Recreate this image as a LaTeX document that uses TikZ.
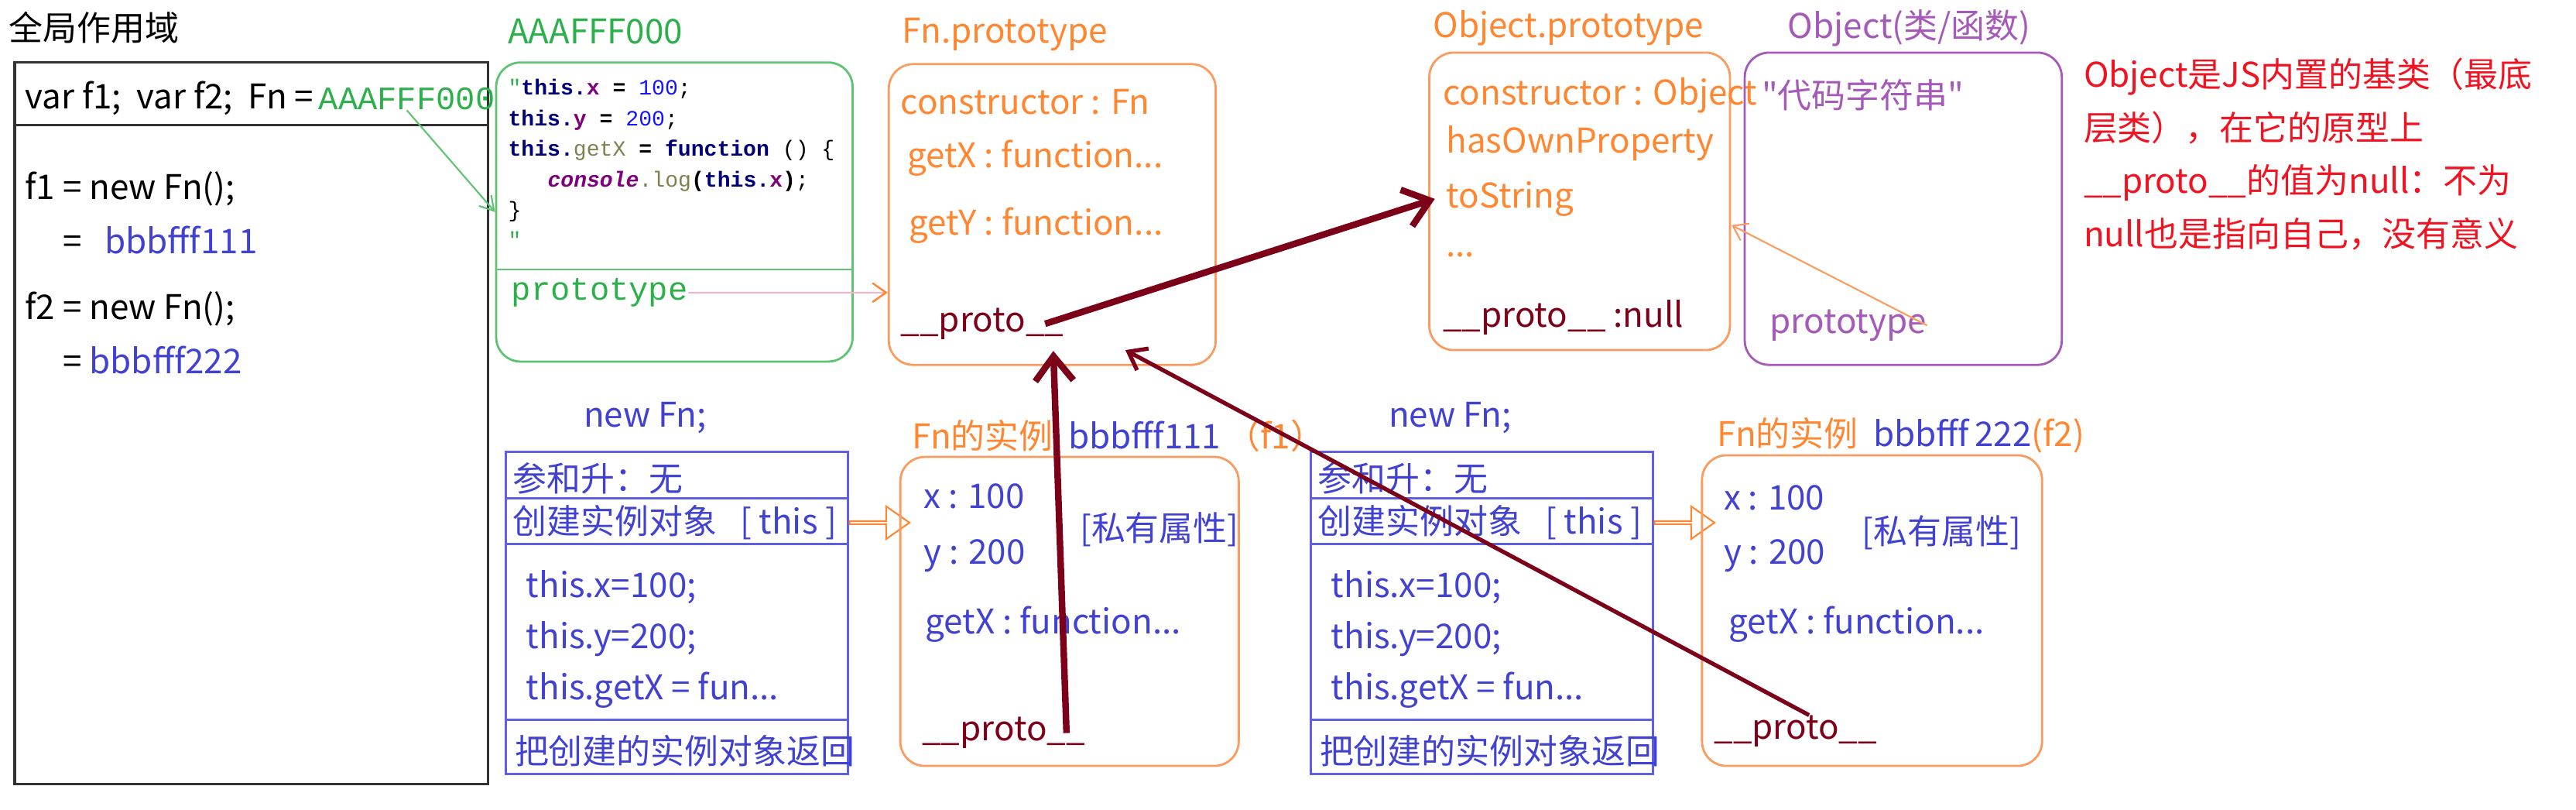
\documentclass[tikz,border=0pt]{standalone}
\usepackage{fontspec}
\setmainfont{Noto Sans CJK SC}
\newfontfamily\codefont{Liberation Mono}
\usepackage{tikz}
\usetikzlibrary{arrows.meta,fit,shapes.arrows}
\definecolor{gline}{RGB}{95,195,115}
\definecolor{gtext}{RGB}{45,175,75}
\definecolor{otext}{RGB}{255,135,50}
\definecolor{oline}{RGB}{250,155,95}
\definecolor{ptext}{RGB}{165,90,185}
\definecolor{rtext}{RGB}{240,20,35}
\definecolor{btext}{RGB}{65,65,210}
\definecolor{bline}{RGB}{95,95,225}
\definecolor{dred}{RGB}{125,0,25}
\definecolor{pinkl}{RGB}{255,175,200}
\definecolor{cnavy}{RGB}{0,0,120}
\definecolor{cpurp}{RGB}{125,0,125}
\definecolor{cblue}{RGB}{20,20,255}
\definecolor{colive}{RGB}{128,128,80}
\newcommand{\sq}{\XeTeXglyph\XeTeXcharglyph"22\relax}

\begin{document}
\begin{tikzpicture}[x=0.021224cm,y=-0.021224cm]
\useasboundingbox (0,0) rectangle (1568,492.8);

\tikzstyle{every node}=[font=\fontsize{12.5}{15}\selectfont, inner sep=0pt]
\tikzstyle{lbl}=[anchor=west]
\tikzstyle{mono}=[anchor=west, font=\codefont\fontsize{12}{14}\selectfont]
\tikzstyle{rbox}=[draw, rounded corners=9pt, line width=0.8pt]
\tikzstyle{sbox}=[draw=bline, line width=0.8pt]
\tikzstyle{bigarrow}=[dred, line width=2.4pt, -{Straight Barb[length=9pt,width=14pt]}]
\tikzstyle{hollow}=[single arrow, draw=otext, line width=0.6pt, minimum height=22pt, minimum width=12pt, single arrow head extend=3pt, single arrow tip angle=70, anchor=tail]

\node (gtitle) [lbl] at (5,17) {全局作用域};
\node (gscope) [draw, black!80, line width=1pt, fit={(9,38) (297,477)}] {};
\draw [black!80, line width=1pt] (9,76) -- (297,76);
\node (vars) [lbl] at (15,60) {var f1;\ \ var f2;\ \ Fn =};
\node (addr) [mono, gtext] at ([xshift=1.5pt]vars.east) {AAAFFF000};
\node (f1new) [lbl] at (15,115) {f1 = new Fn();};
\node (f1val) [lbl] at (38,146) {=\ \ \ {\color{btext}bbbfff111}};
\node (f2new) [lbl] at (15,188) {f2 = new Fn();};
\node (f2val) [lbl] at (38,219) {= {\color{btext}bbbfff222}};

\node (atitle) [lbl, gtext] at (309,19) {AAAFFF000};
\node (abox) [rbox, gline, fit={(302,38) (519,220)}] {};
\draw [gline, line width=0.8pt] (302,164) -- (519,164);
\node (acode) [anchor=north west, align=left, font=\codefont\bfseries\fontsize{8}{11.2}\selectfont] at (309,48) {%
{\color{gtext}\mdseries"}{\color{cnavy}this.}{\color{cpurp}x} = {\color{cblue}\mdseries 100}\mdseries;\\
{\color{cnavy}this.}{\color{cpurp}y} = {\color{cblue}\mdseries 200}\mdseries;\\
{\color{cnavy}this.}{\color{colive}\mdseries getX} = {\color{cnavy}function} \mdseries() \{\\
\hspace*{14.5pt}{\color{cpurp}\itshape console}{\color{colive}\mdseries.log}(\textcolor{cnavy}{this.}{\color{cpurp}x})\mdseries;\\
\mdseries\}\\
{\color{gtext}\mdseries"}};
\node (aproto) [mono, gtext] at (311,178) {prototype};

\node (fptitle) [lbl, otext] at (549,21) {Fn.prototype};
\node (fnproto) [rbox, oline, fit={(541,39) (740,222)}] {};
\node (fpcons) [lbl, otext] at (548,62) {constructor : Fn};
\node (fpgetx) [lbl, otext] at (552,96) {getX : function...};
\node (fpgety) [lbl, otext] at (553,137) {getY : function...};
\node (fpproto) [lbl, dred] at (548,197) {\_\_proto\_\_};

\node (optitle) [lbl, otext] at (872,17) {Object.prototype};
\node (objproto) [rbox, oline, fit={(870,32) (1053,213)}] {};
\node (opcons) [lbl, otext] at (878,58) {constructor : Object};
\node (ophas) [lbl, otext] at (880,87) {hasOwnProperty};
\node (tostr) [lbl, otext] at (880,121) {toString};
\node (opdots) [lbl, otext] at (880,155) {...};
\node (opproto) [lbl, dred] at (878,193) {\_\_proto\_\_ :null};

\node (oftitle) [lbl, ptext] at (1088,17) {Object(类/函数)};
\node (objfn) [rbox, ptext, fit={(1062,32) (1255,222)}] {};
\node (ofcode) [lbl, ptext] at (1072,58) {\sq 代码字符串\sq};
\node (ofproto) [lbl, ptext] at (1077,198) {prototype};

\node (note) [anchor=north west, align=left, rtext, font=\fontsize{12.5}{19.5}\selectfont] at (1268,35) {%
Object是JS内置的基类（最底\\
层类），在它的原型上\\
\_\_proto\_\_的值为null：不为\\
null也是指向自己，没有意义};

\node (new1) [lbl, btext] at (355,254) {new Fn;};
\node (ctor1) [sbox, fit={(308,275) (516,471)}] {};
\draw [bline, line width=0.8pt] (308,303) -- (516,303) (308,331) -- (516,331) (308,438) -- (516,438);
\node (c1arg) [lbl, btext] at (312,291) {参和升：无};
\node (c1this) [lbl, btext] at (312,318) {创建实例对象\ \ \ [ this ]};
\node (c1x) [lbl, btext] at (320,357) {this.x=100;};
\node (c1y) [lbl, btext] at (320,389) {this.y=200;};
\node (c1get) [lbl, btext] at (320,420) {this.getX = fun...};
\node (c1ret) [lbl, btext] at (313,457) {把创建的实例对象返回};
\node (h1) [hollow] at (ctor1.east |- c1this) {};

\node (new2) [lbl, btext] at (845,254) {new Fn;};
\node (ctor2) [sbox, fit={(798,275) (1006,471)}] {};
\draw [bline, line width=0.8pt] (798,303) -- (1006,303) (798,331) -- (1006,331) (798,438) -- (1006,438);
\node (c2arg) [lbl, btext] at (802,291) {参和升：无};
\node (c2this) [lbl, btext] at (802,318) {创建实例对象\ \ \ [ this ]};
\node (c2x) [lbl, btext] at (810,357) {this.x=100;};
\node (c2y) [lbl, btext] at (810,389) {this.y=200;};
\node (c2get) [lbl, btext] at (810,420) {this.getX = fun...};
\node (c2ret) [lbl, btext] at (803,457) {把创建的实例对象返回};
\node (h2) [hollow] at (ctor2.east |- c2this) {};

\node (i1title) [lbl] at (555,265) {{\color{otext}Fn的实例}\ \ {\color{btext}bbbfff111}\,{\color{otext}（f1）}};
\node (inst1) [rbox, oline, fit={(548,278) (754,466)}] {};
\node (i1x) [lbl, btext] at (562,302) {x : 100};
\node (i1y) [lbl, btext] at (562,338) {y : 200};
\node (i1priv) [lbl, btext] at (657,322) {[私有属性]};
\node (i1get) [lbl, btext] at (563,380) {getX : function...};
\node (i1proto) [lbl, dred] at (561,446) {\_\_proto\_\_};

\node (i2title) [lbl] at (1045,265) {{\color{otext}Fn的实例}\ \ {\color{btext}bbbfff\,222}{\color{otext}(f2)}};
\node (inst2) [rbox, oline, fit={(1036,277) (1243,466)}] {};
\node (i2x) [lbl, btext] at (1049,303) {x : 100};
\node (i2y) [lbl, btext] at (1049,338) {y : 200};
\node (i2priv) [lbl, btext] at (1133,324) {[私有属性]};
\node (i2get) [lbl, btext] at (1052,380) {getX : function...};
\node (i2proto) [lbl, dred] at (1043,445) {\_\_proto\_\_};

\coordinate (fpin) at (685,213);
\coordinate (opin) at (1054,137);

\draw [gline, line width=0.6pt, -{Straight Barb[length=5pt,width=6pt]}] (addr.south) -- (abox.west);
\draw [pinkl, line width=0.7pt, -{Straight Barb[length=5pt,width=7pt,color=otext]}] (aproto.east) -- (fnproto.west |- aproto.east);
\draw [oline, line width=0.6pt, -{Straight Barb[length=5pt,width=7pt]}] (ofproto.east) -- (opin);
\draw [bigarrow] ([xshift=-7pt]fpproto.east) -- ([xshift=-4pt]tostr.west);
\draw [bigarrow] ([xshift=-7pt]i1proto.east) -- ([xshift=-4pt,yshift=-4pt]fpproto.south east);
\draw [dred, line width=1.5pt, -{Straight Barb[length=6pt,width=9pt]}] ([xshift=5pt]i2proto.north) -- (fpin);
\end{tikzpicture}
\end{document}
